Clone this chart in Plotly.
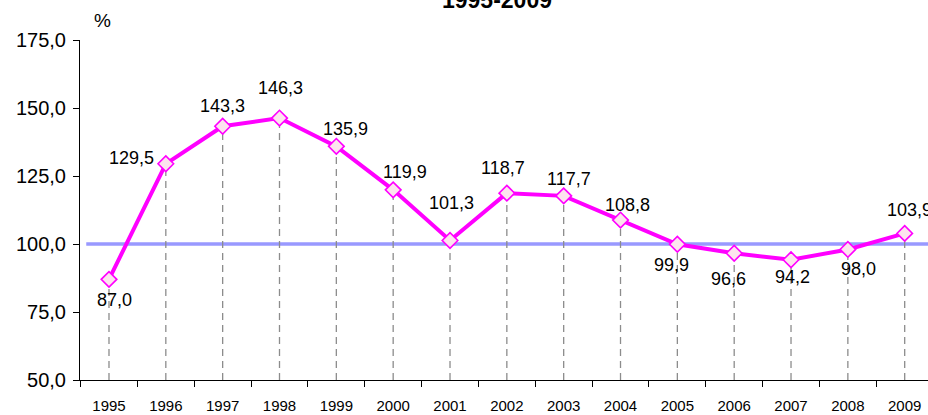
import plotly.graph_objects as go

years = ["1995", "1996", "1997", "1998", "1999", "2000", "2001", "2002",
         "2003", "2004", "2005", "2006", "2007", "2008", "2009"]
values = [87.0, 129.5, 143.3, 146.3, 135.9, 119.9, 101.3, 118.7,
          117.7, 108.8, 99.9, 96.6, 94.2, 98.0, 103.9]
label_x_shift = [6, -34, 0, 1, 9, 12, 1, -4, 5, 7, -6, -6, 1, 11, 5]
label_y_shift = [-21, 6, 20, 30, 17, 18, 37, 25, 17, 15, -21, -26, -17, -20, 23]
reference_level = 100.0
y_min, y_max = 50.0, 175.0
title_text = "1995-2009"
y_unit = "%"

xpos = list(range(len(years)))
FONT = "Liberation Sans, Arial, sans-serif"

fig = go.Figure()

# dashed drop lines
dx, dy = [], []
for xi, v in zip(xpos, values):
    dx += [xi, xi, None]
    dy += [y_min, v, None]
fig.add_trace(go.Scatter(x=dx, y=dy, mode="lines",
                         line=dict(color="#8c8c8c", width=1.3, dash="7px,5px"),
                         hoverinfo="skip", showlegend=False))

# reference line at 100
fig.add_shape(type="line", xref="x", yref="y", x0=-0.4, x1=xpos[-1] + 0.6,
              y0=reference_level, y1=reference_level,
              line=dict(color="#9999ff", width=3.5), layer="below")

fig.add_trace(go.Scatter(x=xpos, y=values, mode="lines+markers",
                         line=dict(color="#ff00ff", width=4),
                         marker=dict(symbol="diamond", size=12, color="#fde4ee",
                                     line=dict(color="#ff00ff", width=1.6)),
                         showlegend=False, cliponaxis=False))

for xi, v, xs, ys in zip(xpos, values, label_x_shift, label_y_shift):
    fig.add_annotation(xref="x", yref="y", x=xi, y=v,
                       text=f"{v:.1f}".replace(".", ","),
                       showarrow=False, xshift=xs, yshift=ys,
                       font=dict(family=FONT, size=18, color="#000000"))

fig.add_annotation(xref="paper", yref="paper", x=0.4917, y=1.075,
                   xanchor="center", yanchor="bottom",
                   text=f"<b>{title_text}</b>", showarrow=False,
                   font=dict(family=FONT, size=23, color="#000"))
fig.add_annotation(xref="paper", yref="paper", x=0.026, y=1.0588,
                   xanchor="center", yanchor="middle",
                   text=y_unit, showarrow=False,
                   font=dict(family=FONT, size=19, color="#000"))

fig.update_layout(
    width=928, height=415,
    margin=dict(l=80, r=0, t=40, b=35),
    paper_bgcolor="white", plot_bgcolor="white",
    separators=",.",
    xaxis=dict(range=[-0.51, 14.41], tickmode="array", tickvals=xpos, ticktext=years,
               ticks="", ticklabelstandoff=12,
               minor=dict(tickmode="linear", tick0=-0.5, dtick=1, ticks="outside",
                          ticklen=6, tickcolor="#000", showgrid=False),
               showline=True, linecolor="#000", linewidth=1,
               showgrid=False, zeroline=False,
               tickfont=dict(family=FONT, size=15, color="#000")),
    yaxis=dict(range=[y_min, y_max], dtick=25, tickformat=".1f",
               showline=True, linecolor="#000", linewidth=1,
               ticks="outside", ticklen=6, tickcolor="#000", ticklabelstandoff=3,
               showgrid=False, zeroline=False,
               tickfont=dict(family=FONT, size=20, color="#000")),
)

fig.write_html("out.html", config={"displayModeBar": False},
               post_script="document.body.style.margin='0';document.body.style.padding='0';")
